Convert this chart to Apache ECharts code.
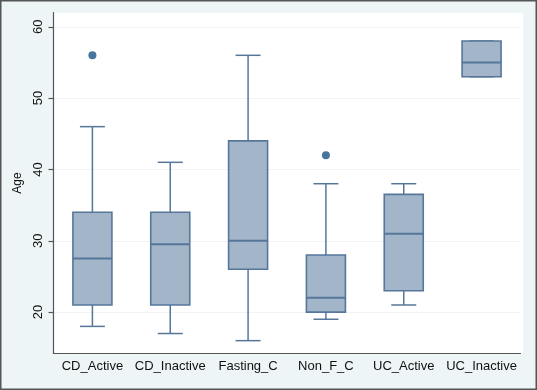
<!DOCTYPE html>
<html>
<head>
<meta charset="utf-8">
<script src="https://cdn.jsdelivr.net/npm/echarts@6/dist/echarts.min.js"></script>
<style>
  html, body { margin: 0; padding: 0; background: #eef5f6; }
  #chart { width: 537px; height: 390px; }
</style>
</head>
<body>
<div id="chart"></div>
<script>
// Groups on the x axis
const groups = ['CD_Active', 'CD_Inactive', 'Fasting_C', 'Non_F_C', 'UC_Active', 'UC_Inactive'];
// Box statistics per group: lower whisker, Q1, median, Q3, upper whisker
const lowerWhisker = [18, 17, 16, 19, 21, 53];
const q1 = [21, 21, 26, 20, 23, 53];
const median = [27.5, 29.5, 30, 22, 31, 55];
const q3 = [34, 34, 44, 28, 36.5, 58];
const upperWhisker = [46, 41, 56, 38, 38, 58];
// Outside values: [group index, age]
const outliers = [[0, 56], [3, 42]];
const yTicks = [20, 30, 40, 50, 60];

const boxData = groups.map((g, i) => [i, lowerWhisker[i], q1[i], median[i], q3[i], upperWhisker[i]]);

const chart = echarts.init(document.getElementById('chart'));

const lineColor = '#56779a';
const fillColor = '#a3b5c9';

const renderBox = (params, api) => {
  const i = api.value(0);
  const lo = api.coord([i, api.value(1)]);
  const b1 = api.coord([i, api.value(2)]);
  const md = api.coord([i, api.value(3)]);
  const b3 = api.coord([i, api.value(4)]);
  const hi = api.coord([i, api.value(5)]);
  const x = lo[0];
  const half = 19.5;
  const cap = 12.5;
  const style = { stroke: lineColor, lineWidth: 1.5, fill: null };
  return {
    type: 'group',
    children: [
      { type: 'line', shape: { x1: x, y1: hi[1], x2: x, y2: b3[1] }, style: style },
      { type: 'line', shape: { x1: x, y1: b1[1], x2: x, y2: lo[1] }, style: style },
      { type: 'line', shape: { x1: x - cap, y1: hi[1], x2: x + cap, y2: hi[1] }, style: style },
      { type: 'line', shape: { x1: x - cap, y1: lo[1], x2: x + cap, y2: lo[1] }, style: style },
      {
        type: 'rect',
        shape: { x: x - half, y: b3[1], width: half * 2, height: b1[1] - b3[1] },
        style: { fill: fillColor, stroke: lineColor, lineWidth: 1.6 }
      },
      { type: 'line', shape: { x1: x - half, y1: md[1], x2: x + half, y2: md[1] }, style: { stroke: lineColor, lineWidth: 2 } }
    ]
  };
};

const option = {
  backgroundColor: '#eef5f6',
  animation: false,
  graphic: [
    {
      type: 'rect',
      z: -10,
      silent: true,
      shape: { x: 53, y: 13, width: 470, height: 341 },
      style: { fill: '#ffffff' }
    },
    {
      type: 'rect',
      silent: true,
      shape: { x: 0.75, y: 0.75, width: 535.5, height: 388.5 },
      style: { fill: null, stroke: '#555555', lineWidth: 1.5 }
    }
  ],
  grid: {
    left: 53.5,
    top: 12.5,
    width: 467,
    height: 341
  },
  xAxis: {
    type: 'category',
    data: groups,
    boundaryGap: true,
    axisLine: { show: true, lineStyle: { color: '#555555', width: 1.2 } },
    axisTick: { show: false },
    axisLabel: {
      color: '#111111',
      fontSize: 13,
      fontFamily: 'Liberation Sans, Arial, sans-serif',
      margin: 6,
      interval: 0
    },
    splitLine: { show: false }
  },
  yAxis: {
    type: 'value',
    min: 14.2,
    max: 62,
    name: 'Age',
    nameLocation: 'middle',
    nameRotate: 90,
    nameGap: 22,
    nameTextStyle: {
      color: '#111111',
      fontSize: 12,
      fontFamily: 'Liberation Sans, Arial, sans-serif'
    },
    axisLine: { show: true, lineStyle: { color: '#555555', width: 1.2 } },
    axisTick: {
      show: true,
      length: 5,
      customValues: yTicks,
      lineStyle: { color: '#555555', width: 1.2 }
    },
    axisLabel: {
      customValues: yTicks,
      rotate: 90,
      margin: 9,
      color: '#111111',
      fontSize: 13,
      fontFamily: 'Liberation Sans, Arial, sans-serif'
    },
    splitLine: {
      show: true,
      customValues: yTicks,
      lineStyle: { color: '#f1f3f4', width: 1 }
    }
  },
  series: [
    {
      type: 'custom',
      renderItem: renderBox,
      encode: { x: 0, y: [1, 2, 3, 4, 5] },
      data: boxData,
      z: 2
    },
    {
      type: 'scatter',
      data: outliers,
      symbol: 'circle',
      symbolSize: 8,
      itemStyle: { color: '#1a5285' },
      z: 3
    }
  ]
};

chart.setOption(option);
</script>
</body>
</html>
